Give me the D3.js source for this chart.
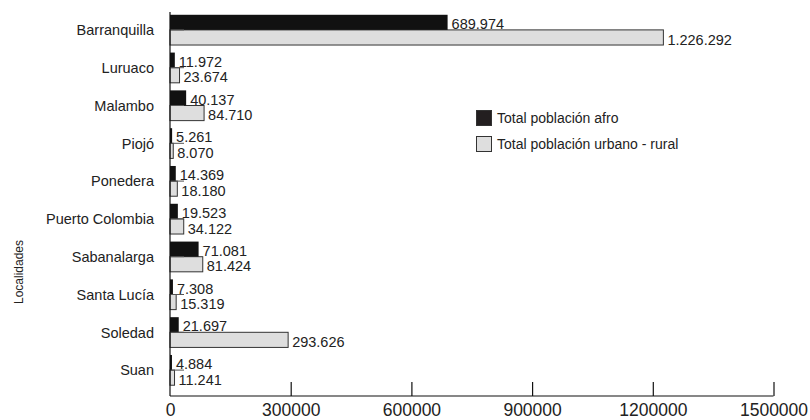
<!DOCTYPE html>
<html>
<head>
<meta charset="utf-8">
<script src="https://cdn.jsdelivr.net/npm/d3@7/dist/d3.min.js"></script>
<style>
  html, body { margin: 0; padding: 0; background: #fff; }
  svg { display: block; font-family: "Liberation Sans", Arial, Helvetica, sans-serif; }
</style>
</head>
<body>
<svg id="chart" width="810" height="420"></svg>
<script>
// Municipios del Atlántico
const localidades = ["Barranquilla", "Luruaco", "Malambo", "Piojó", "Ponedera",
  "Puerto Colombia", "Sabanalarga", "Santa Lucía", "Soledad", "Suan"];
// Total población afro por localidad
const poblacionAfro = [689974, 11972, 40137, 5261, 14369, 19523, 71081, 7308, 21697, 4884];
// Total población urbano - rural por localidad
const poblacionTotal = [1226292, 23674, 84710, 8070, 18180, 34122, 81424, 15319, 293626, 11241];
const xTicks = [0, 300000, 600000, 900000, 1200000, 1500000];
const serieNombres = ["Total población afro", "Total población urbano - rural"];
const ejeY = "Localidades";

const colorAfro = "#111111";
const colorTotal = "#dedede";
const borde = "#333333";

const svg = d3.select("#chart");

const x = d3.scaleLinear().domain([0, 1500000]).range([170, 773.5]);
const y = d3.scaleBand().domain(localidades).range([11, 389])
  .paddingInner(0.2).paddingOuter(0.1);
const half = y.bandwidth() / 2;
const axisY = 396;

const fmt = d3.formatLocale({ decimal: ",", thousands: ".", grouping: [3], currency: ["", ""] }).format(",d");

const rows = localidades.map((name, i) => ({ name, afro: poblacionAfro[i], total: poblacionTotal[i] }));

// Barras de población total (claras, con borde)
svg.append("g").selectAll("rect").data(rows).join("rect")
  .attr("x", x(0))
  .attr("y", d => y(d.name) + half)
  .attr("width", d => x(d.total) - x(0))
  .attr("height", half)
  .attr("fill", colorTotal)
  .attr("stroke", borde)
  .attr("stroke-width", 1);

// Barras de población afro (oscuras)
svg.append("g").selectAll("rect").data(rows).join("rect")
  .attr("x", x(0))
  .attr("y", d => y(d.name))
  .attr("width", d => x(d.afro) - x(0))
  .attr("height", half)
  .attr("fill", colorAfro);

// Línea guía bajo cada barra oscura
svg.append("g").selectAll("line").data(rows).join("line")
  .attr("x1", x(0)).attr("x2", x(0) + 14)
  .attr("y1", d => y(d.name) + half).attr("y2", d => y(d.name) + half)
  .attr("stroke", "#555").attr("stroke-width", 1);

// Etiquetas de valores
const labels = svg.append("g").attr("font-size", "14.5px").attr("fill", "#222");
labels.selectAll("text.afro").data(rows).join("text")
  .attr("class", "afro")
  .attr("x", d => x(d.afro) + 4)
  .attr("y", d => y(d.name) + half - 1)
  .text(d => fmt(d.afro));
labels.selectAll("text.total").data(rows).join("text")
  .attr("class", "total")
  .attr("x", d => x(d.total) + 4)
  .attr("y", d => y(d.name) + 2 * half - 0.5)
  .text(d => fmt(d.total));

// Eje Y: línea y nombres de localidades
svg.append("line")
  .attr("x1", x(0)).attr("x2", x(0))
  .attr("y1", 12).attr("y2", axisY)
  .attr("stroke", "#111").attr("stroke-width", 1.2);
svg.append("g").selectAll("text").data(localidades).join("text")
  .attr("x", 154)
  .attr("y", d => y(d) + half)
  .attr("dy", "0.36em")
  .attr("text-anchor", "end")
  .attr("font-size", "14.5px")
  .attr("fill", "#222")
  .text(d => d);

// Eje X con marcas hacia dentro
const xAxis = d3.axisBottom(x).tickValues(xTicks).tickSize(-14).tickPadding(22).tickFormat(d3.format("d"));
const gx = svg.append("g").attr("transform", `translate(0,${axisY})`).call(xAxis);
gx.select(".domain").attr("d", `M${x(0)},0H${x(1500000)}`).attr("stroke", "#111").attr("stroke-width", 1.2);
gx.selectAll(".tick line").attr("stroke", "#111").attr("stroke-width", 1.2)
  .filter(d => d === 0).remove();
gx.selectAll(".tick text")
  .attr("font-size", "17.5px")
  .attr("font-family", "\"Liberation Sans\", Arial, sans-serif")
  .attr("fill", "#222")
  .attr("y", 0).attr("dy", "20px");

// Título del eje Y
svg.append("text")
  .attr("transform", "translate(22.5,272) rotate(-90)")
  .attr("text-anchor", "middle")
  .attr("font-size", "12px")
  .attr("fill", "#222")
  .text(ejeY);

// Leyenda
const legend = svg.append("g").attr("transform", "translate(476,110)");
const legendFill = ["#231f20", colorTotal];
legend.selectAll("rect").data(serieNombres).join("rect")
  .attr("x", 0.5)
  .attr("y", (d, i) => i * 26 + 0.5)
  .attr("width", 15).attr("height", 15)
  .attr("fill", (d, i) => legendFill[i])
  .attr("stroke", borde).attr("stroke-width", 1);
legend.selectAll("text").data(serieNombres).join("text")
  .attr("x", 21)
  .attr("y", (d, i) => i * 26 + 13)
  .attr("font-size", "14px")
  .attr("fill", "#222")
  .text(d => d);
</script>
</body>
</html>
